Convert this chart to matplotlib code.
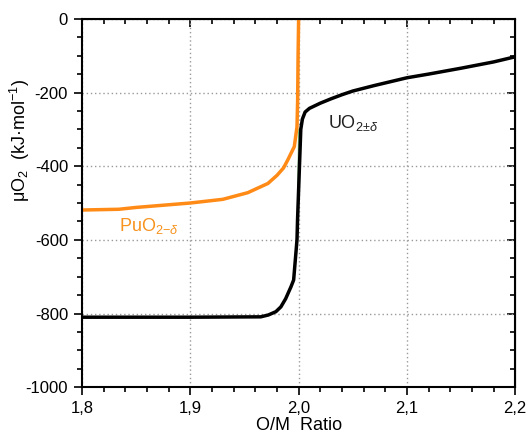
import numpy as np
import matplotlib.pyplot as plt
from matplotlib.ticker import MultipleLocator, FuncFormatter

plt.rcParams['font.family'] = ['Liberation Sans', 'DejaVu Sans']
plt.rcParams['mathtext.fontset'] = 'custom'
plt.rcParams['mathtext.rm'] = 'Liberation Sans'
plt.rcParams['mathtext.it'] = 'Liberation Sans:italic'

# UO2+-x curve (O/M ratio, chemical potential kJ/mol)
uo2_x = [1.80, 1.90, 1.965, 1.972, 1.979, 1.9836, 1.988, 1.993, 1.9954, 1.9985,
         1.999, 2.002, 2.0035, 2.006, 2.01, 2.02, 2.03, 2.04, 2.05, 2.07,
         2.10, 2.12, 2.15, 2.18, 2.20]
uo2_y = [-810, -810, -809, -804, -795, -782, -760, -727, -709, -600,
         -546, -300, -272, -253, -243, -229, -217, -206, -196, -181,
         -160, -150, -134, -117, -103]

# PuO2-x curve
puo2_x = [1.80, 1.834, 1.85, 1.90, 1.93, 1.953, 1.9716, 1.98, 1.986, 1.990,
          1.996, 1.9985, 1.9991, 1.9995, 2.0]
puo2_y = [-519, -517, -512, -500, -490, -472, -447, -425, -405, -383,
          -347, -293, -220, -100, 0]

# faint green trace near the stoichiometric point
green_x = [1.9985, 2.0]
green_y = [-600, -300]

fig = plt.figure(figsize=(5.29, 4.38), dpi=100)
ax = fig.add_axes([0.155, 0.116, 0.819, 0.841])

ax.plot(green_x, green_y, color='#4caf50', lw=0.8, alpha=0.7)
ax.plot(puo2_x, puo2_y, color='#ff8a16', lw=2.5)
ax.plot(uo2_x, uo2_y, color='black', lw=2.5)

ax.text(2.027, -282, 'UO$_{2{\\pm}\\mathit{\\delta}}$', fontsize=13, color='#222222', va='center')
ax.text(1.834, -563, 'PuO$_{2{-}\\mathit{\\delta}}$', fontsize=13,
        color='#f7931e', va='center')

ax.set_xlim(1.8, 2.2)
ax.set_ylim(-1000, 0)
ax.xaxis.set_major_locator(MultipleLocator(0.1))
ax.xaxis.set_minor_locator(MultipleLocator(0.02))
ax.yaxis.set_major_locator(MultipleLocator(200))
ax.yaxis.set_minor_locator(MultipleLocator(50))
ax.xaxis.set_major_formatter(FuncFormatter(lambda v, p: f'{v:.1f}'.replace('.', ',')))
ax.yaxis.set_major_formatter(FuncFormatter(lambda v, p: f'{v:.0f}'))

ax.grid(True, which='major', color='#999999', ls=(0, (1, 2)), lw=1)
ax.tick_params(which='both', direction='out', labelsize=12, width=1.2, pad=4)
ax.tick_params(which='major', length=6)
ax.tick_params(which='minor', length=3.5)
for s in ax.spines.values():
    s.set_linewidth(1.5)

top = ax.secondary_xaxis('top')
top.xaxis.set_major_locator(MultipleLocator(0.1))
top.xaxis.set_minor_locator(MultipleLocator(0.02))
top.tick_params(which='both', direction='in', labeltop=False, width=1.2)
top.tick_params(which='major', length=6)
top.tick_params(which='minor', length=3.5)
right = ax.secondary_yaxis('right')
right.yaxis.set_major_locator(MultipleLocator(200))
right.yaxis.set_minor_locator(MultipleLocator(50))
right.tick_params(which='both', direction='in', labelright=False, width=1.2)
right.tick_params(which='major', length=6)
right.tick_params(which='minor', length=3.5)

ax.set_xlabel('O/M  Ratio', fontsize=13)
ax.xaxis.set_label_coords(0.5, -0.082)
ax.xaxis.label.set_va('top')
ax.set_ylabel('\u03bcO$_2$  (kJ\u00b7mol$^{-1}$)', fontsize=13)
ax.yaxis.set_label_coords(-0.115, 0.67)

fig.savefig('out.png', dpi=100)
